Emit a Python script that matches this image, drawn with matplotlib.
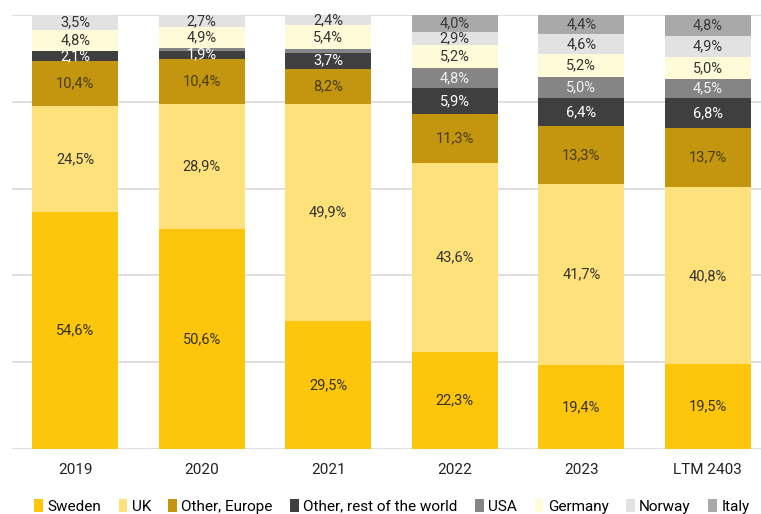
import numpy as np
import matplotlib.pyplot as plt
from matplotlib.patches import Patch

plt.rcParams['font.family'] = ['Roboto', 'DejaVu Sans']

years = ["2019", "2020", "2021", "2022", "2023", "LTM 2403"]
series = ["Sweden", "UK", "Other, Europe", "Other, rest of the world",
          "USA", "Germany", "Norway", "Italy"]

sweden = [54.6, 50.6, 29.5, 22.3, 19.4, 19.5]
uk = [24.5, 28.9, 49.9, 43.6, 41.7, 40.8]
other_europe = [10.4, 10.4, 8.2, 11.3, 13.3, 13.7]
other_row = [2.1, 1.9, 3.7, 5.9, 6.4, 6.8]
usa = [0.1, 0.6, 0.9, 4.8, 5.0, 4.5]
germany = [4.8, 4.9, 5.4, 5.2, 5.2, 5.0]
norway = [3.5, 2.7, 2.4, 2.9, 4.6, 4.9]
italy = [0.0, 0.0, 0.0, 4.0, 4.4, 4.8]

values = [sweden, uk, other_europe, other_row, usa, germany, norway, italy]
colors = ["#FEC60B", "#FEE17A", "#C4950F", "#3F3F3F",
          "#858585", "#FFFBD8", "#E2E2E2", "#A9A9A9"]
text_colors = ["#333333", "#333333", "#4a3d12", "#FFFFFF",
               "#F2F2F2", "#333333", "#333333", "#3a3a3a"]

fig = plt.figure(figsize=(7.61, 5.14), dpi=100)
ax = fig.add_axes([12 / 761, 1 - 449 / 514, 749 / 761, 434 / 514])

x = np.arange(len(years))
bottom = np.zeros(len(years))
for vals, col, tcol in zip(values, colors, text_colors):
    vals = np.array(vals)
    ax.bar(x, vals, bottom=bottom, width=0.68, color=col, zorder=2)
    for xi, b, v in zip(x, bottom, vals):
        if v >= 1.5:
            ax.text(xi, b + v / 2, f"{v:.1f}".replace(".", ",") + "%",
                    ha="center", va="center", fontsize=10.5, color=tcol, zorder=3)
    bottom += vals

ax.set_xlim(-0.5, 5.42)
ax.set_ylim(0, 100)
ax.set_yticks([0, 20, 40, 60, 80, 100])
ax.yaxis.grid(True, color="#D9D9D9", linewidth=1.2, zorder=0)
ax.set_yticklabels([])
ax.tick_params(axis="y", length=0)
ax.tick_params(axis="x", length=0, pad=10, labelsize=11, labelcolor="#222222")
ax.set_xticks(x)
ax.set_xticklabels(years)
for s in ax.spines.values():
    s.set_visible(False)

handles = [Patch(facecolor=c, edgecolor="none") for c in colors]
fig.legend(handles, series, loc="center", bbox_to_anchor=(0.515, 0.015),
           ncol=8, frameon=False, fontsize=11, handlelength=0.55,
           handleheight=0.9, handletextpad=0.3, columnspacing=1.15)

fig.savefig("out.png", dpi=100)
